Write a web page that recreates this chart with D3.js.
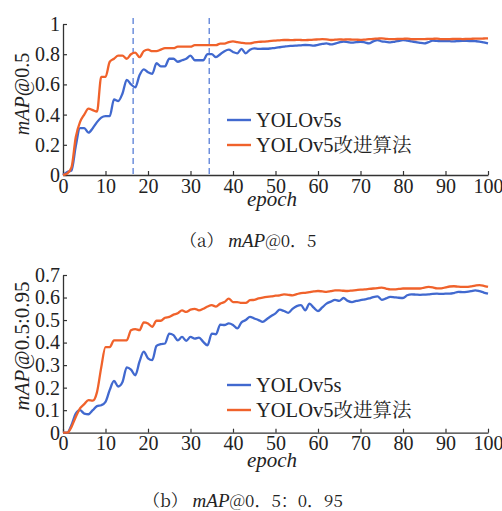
<!DOCTYPE html>
<html><head><meta charset="utf-8">
<script src="https://cdn.jsdelivr.net/npm/d3@7"></script>
<style>
html,body{margin:0;padding:0;background:#fff;}
svg{display:block;}
</style></head>
<body>
<svg id="c" width="502" height="511"></svg>
<script>
// ---- data ----
const epochs = d3.range(0, 101);
const xTicks = [0,10,20,30,40,50,60,70,80,90,100];
const seriesLatin = ["YOLOv5s", "YOLOv5"];
const seriesCJK = ["", "改进算法"];
const dashedEpochs = [16.5, 34.4];

const mapA_yolo = [0,0.02,0.03,0.19,0.31,0.31,0.28,0.31,0.35,0.38,0.39,0.39,0.50,0.49,0.54,0.63,0.60,0.58,0.66,0.70,
0.68,0.67,0.74,0.72,0.72,0.77,0.77,0.75,0.76,0.77,0.79,0.76,0.76,0.76,0.80,0.80,0.78,0.80,0.82,0.83,
0.815,0.806,0.835,0.806,0.83,0.839,0.835,0.836,0.836,0.839,0.842,0.846,0.85,0.854,0.855,0.857,0.859,0.861,0.860,0.857,
0.862,0.868,0.872,0.865,0.870,0.878,0.883,0.880,0.877,0.880,0.882,0.878,0.872,0.885,0.894,0.885,0.882,0.878,0.882,0.888,
0.894,0.89,0.885,0.88,0.875,0.872,0.88,0.89,0.888,0.886,0.887,0.886,0.885,0.887,0.888,0.888,0.887,0.886,0.884,0.878,0.872];
const mapA_impr = [0,0.01,0.05,0.25,0.35,0.40,0.44,0.43,0.42,0.65,0.65,0.75,0.77,0.79,0.79,0.77,0.80,0.81,0.78,0.82,
0.83,0.82,0.82,0.83,0.84,0.84,0.84,0.85,0.85,0.85,0.85,0.86,0.86,0.86,0.86,0.86,0.86,0.87,0.87,0.88,
0.885,0.88,0.875,0.872,0.872,0.878,0.882,0.883,0.885,0.888,0.89,0.892,0.894,0.894,0.893,0.895,0.894,0.893,0.895,0.896,
0.898,0.90,0.898,0.894,0.896,0.898,0.897,0.898,0.897,0.896,0.895,0.897,0.90,0.902,0.903,0.905,0.902,0.90,0.90,0.901,
0.902,0.903,0.90,0.899,0.90,0.90,0.901,0.902,0.903,0.90,0.90,0.90,0.901,0.902,0.90,0.901,0.902,0.903,0.903,0.904,0.905];
const mapB_yolo = [0,0,0.034,0.085,0.10,0.085,0.082,0.10,0.118,0.122,0.137,0.19,0.23,0.205,0.225,0.29,0.28,0.255,0.315,0.36,
0.33,0.322,0.385,0.393,0.396,0.44,0.433,0.41,0.425,0.408,0.425,0.418,0.422,0.403,0.388,0.44,0.437,0.48,0.478,0.485,
0.478,0.463,0.49,0.50,0.514,0.507,0.50,0.492,0.505,0.518,0.53,0.546,0.54,0.532,0.55,0.562,0.566,0.543,0.573,0.555,
0.54,0.556,0.573,0.582,0.59,0.585,0.598,0.585,0.58,0.585,0.588,0.592,0.596,0.602,0.605,0.59,0.596,0.603,0.601,0.599,
0.598,0.61,0.614,0.613,0.612,0.613,0.614,0.616,0.617,0.616,0.617,0.617,0.620,0.625,0.624,0.625,0.628,0.632,0.628,0.622,0.617];
const mapB_impr = [0,0,0.026,0.07,0.108,0.127,0.145,0.142,0.18,0.29,0.38,0.38,0.41,0.41,0.41,0.41,0.455,0.46,0.455,0.49,
0.485,0.47,0.497,0.497,0.51,0.514,0.524,0.53,0.543,0.536,0.546,0.55,0.543,0.55,0.56,0.566,0.56,0.573,0.58,0.595,
0.58,0.58,0.576,0.576,0.588,0.59,0.596,0.60,0.603,0.605,0.608,0.61,0.614,0.612,0.61,0.615,0.62,0.621,0.624,0.627,
0.629,0.627,0.625,0.628,0.632,0.632,0.630,0.629,0.631,0.633,0.635,0.636,0.638,0.640,0.642,0.644,0.640,0.636,0.636,0.638,
0.640,0.640,0.640,0.640,0.640,0.644,0.647,0.645,0.641,0.641,0.645,0.649,0.650,0.648,0.647,0.647,0.650,0.653,0.655,0.652,0.647];

const yTicksA = [0,0.2,0.4,0.6,0.8,1];
const yTickLabelsA = ["0","0.2","0.4","0.6","0.8","1"];
const yTicksB = [0,0.1,0.2,0.3,0.4,0.5,0.6,0.7];
const yTickLabelsB = ["0","0.1","0.2","0.3","0.4","0.5","0.6","0.7"];

const colors = ["#4169cf", "#f0622b"];
const SERIF = '"Liberation Serif"';
const CJK = '"Noto Serif CJK SC"';
const FS = 20;

const svg = d3.select("#c");

function panel(opt){
  const g = svg.append("g");
  const x = d3.scaleLinear().domain([0,100]).range([63,488]);
  const y = d3.scaleLinear().domain(opt.yDomain).range([opt.bottom, opt.top]);

  (opt.dashed||[]).forEach(e=>{
    g.append("line").attr("x1",x(e)).attr("x2",x(e))
      .attr("y1",opt.top-6).attr("y2",opt.bottom)
      .attr("stroke","#4a74d4").attr("stroke-width",1.2).attr("stroke-dasharray","6,4");
  });

  const xAxis = d3.axisBottom(x).tickValues(xTicks).tickSizeInner(-4).tickSizeOuter(0).tickPadding(8);
  const gx = g.append("g").attr("transform",`translate(0,${opt.bottom})`).call(xAxis)
    .attr("font-size",FS);
  gx.select(".domain").attr("stroke","#333").attr("stroke-width",1.3);
  gx.selectAll(".tick line").attr("stroke","#333").attr("stroke-width",1.2);
  gx.selectAll(".tick text").style("font-family",SERIF).attr("font-size",FS).attr("fill","#222")
    .attr("dy","0.48em");

  const yAxis = d3.axisLeft(y).tickValues(opt.yTicks).tickFormat((d,i)=>opt.yLabels[i])
    .tickSizeInner(-4).tickSizeOuter(0).tickPadding(3);
  const gy = g.append("g").attr("transform","translate(63,0)").call(yAxis)
    .attr("font-size",FS);
  gy.select(".domain").attr("stroke","#333").attr("stroke-width",1.3);
  gy.selectAll(".tick line").attr("stroke","#333").attr("stroke-width",1.2);
  gy.selectAll(".tick text").style("font-family",SERIF).attr("font-size",FS).attr("fill","#222");

  const line = d3.line().x((d,i)=>x(epochs[i])).y(d=>y(d)).curve(d3.curveMonotoneX);
  opt.series.forEach((s,k)=>{
    g.append("path").datum(s).attr("d",line).attr("fill","none")
      .attr("stroke",colors[k]).attr("stroke-width",2.3).attr("stroke-linejoin","round");
  });

  seriesLatin.forEach((n,k)=>{
    const ly = opt.legendY[k];
    g.append("line").attr("x1",227).attr("x2",251).attr("y1",ly).attr("y2",ly)
      .attr("stroke",colors[k]).attr("stroke-width",2.4);
    const t = g.append("text").attr("x",256).attr("y",ly+7).attr("font-size",FS+0.5).attr("fill","#222");
    t.append("tspan").style("font-family",SERIF).text(n);
    if (seriesCJK[k]) t.append("tspan").style("font-family",CJK).attr("font-size",FS-0.5).text(seriesCJK[k]);
  });

  g.append("text").attr("x",272).attr("y",opt.bottom+opt.epochOff).attr("text-anchor","middle")
    .style("font-family",SERIF).attr("font-size",FS+1).attr("font-style","italic").attr("fill","#222").text("epoch");
  const yl = g.append("text").attr("transform",`translate(29,${opt.yLabelC}) rotate(-90)`)
    .attr("text-anchor","middle").style("font-family",SERIF).attr("font-size",opt.yLabelFS).attr("fill","#222");
  yl.append("tspan").attr("font-style","italic").text("mAP");
  yl.append("tspan").text(opt.yLabelRest);

  const cap = g.append("text").attr("x",opt.capX).attr("y",opt.capY).attr("font-size",17).attr("fill","#222");
  cap.append("tspan").style("font-family",CJK).text(opt.capLetter);
  cap.append("tspan").style("font-family",SERIF).attr("font-style","italic").attr("font-size",19).text(" mAP");
  cap.append("tspan").style("font-family",CJK).text(opt.capRest);
}

panel({yDomain:[0,1], top:24, bottom:175, yTicks:yTicksA, yLabels:yTickLabelsA,
  series:[mapA_yolo,mapA_impr], dashed:dashedEpochs, legendY:[120,145], epochOff:31,
  yLabelC:94, yLabelFS:20, yLabelRest:"@0.5", capX:180, capY:247, capLetter:"（a）", capRest:"@0．5"});
panel({yDomain:[0,0.7], top:275, bottom:432.7, yTicks:yTicksB, yLabels:yTickLabelsB,
  series:[mapB_yolo,mapB_impr], dashed:[], legendY:[385,410], epochOff:34,
  yLabelC:346, yLabelFS:21, yLabelRest:"@0.5:0.95", capX:143, capY:507, capLetter:"（b）", capRest:"@0．5：0．95"});
</script>
</body></html>
